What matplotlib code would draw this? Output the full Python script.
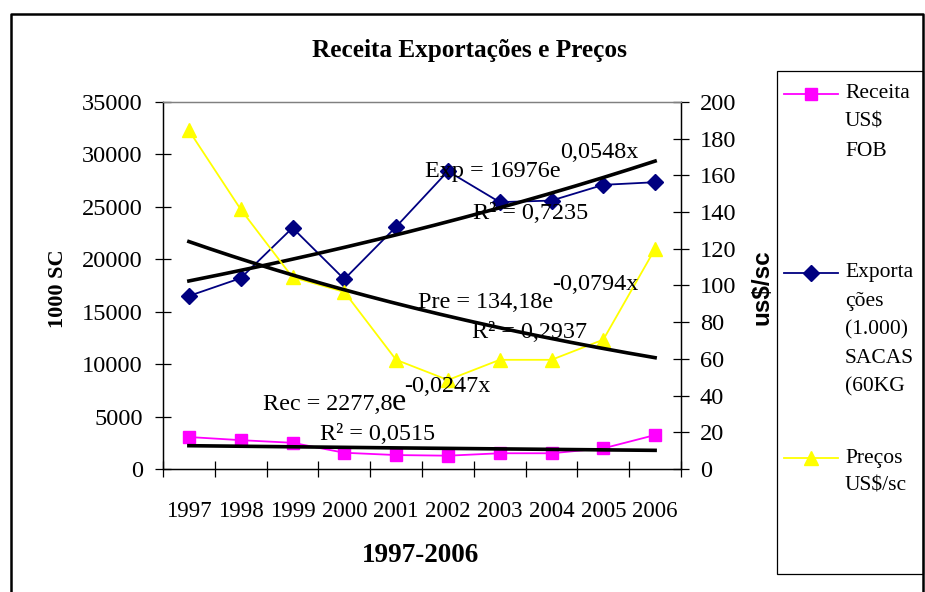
import numpy as np
import matplotlib
matplotlib.use("Agg")
import matplotlib.pyplot as plt
from matplotlib.lines import Line2D
from matplotlib.patches import Rectangle

# === Data ===
anos = ["1997", "1998", "1999", "2000", "2001", "2002", "2003", "2004", "2005", "2006"]
receita = [3050, 2750, 2500, 1550, 1330, 1270, 1500, 1500, 1970, 3240]          # US$ FOB (left axis)
exportacoes = [16500, 18200, 23000, 18100, 23100, 28400, 25450, 25600, 27100, 27350]  # 1000 sacas (left axis)
precos = [184.5, 141.5, 104.5, 96.5, 59.5, 48.5, 59.5, 59.5, 70.5, 120.0]      # US$/sc (right axis)

# exponential trend coefficients as printed on the chart (y = a * e^(b*x), x = 1..10)
trend_exp = [16976, 0.0548]
trend_pre = [134.18, -0.0794]
trend_rec = [2277.8, -0.0247]

SERIF = "Liberation Serif"
W, H = 925, 592


def fx(px):
    return px / W


def fy(py):
    return 1 - py / H


fig = plt.figure(figsize=(W / 100, H / 100), dpi=100)
fig.patch.set_facecolor("white")

ax = fig.add_axes([fx(163), fy(469), fx(681) - fx(163), fy(102) - fy(469)])
ax2 = ax.twinx()

x = np.arange(len(anos))
xs = np.linspace(1, len(anos), 200)

# series
ax.plot(x, receita, color="#FF00FF", lw=1.3, marker="s", ms=8, mec="#FF00FF", zorder=3)
ax.plot(x, exportacoes, color="#000080", lw=1.3, marker="D", ms=8.5, mec="#000080", zorder=3)
ax2.plot(x, precos, color="#FFFF00", lw=1.3, marker="^", ms=10, mec="#FFFF00", zorder=3)

# trend lines
ax.plot(xs - 1, trend_exp[0] * np.exp(trend_exp[1] * xs), color="black", lw=2.6, zorder=4)
ax.plot(xs - 1, trend_rec[0] * np.exp(trend_rec[1] * xs), color="black", lw=2.6, zorder=4)
ax2.plot(xs - 1, trend_pre[0] * np.exp(trend_pre[1] * xs), color="black", lw=2.6, zorder=4)

ax.set_xlim(-0.5, len(anos) - 0.5)
ax.set_ylim(0, 35000)
ax2.set_ylim(0, 200)
ax.set_yticks(np.arange(0, 35001, 5000))
ax2.set_yticks(np.arange(0, 201, 20))
ax.set_xticks(x, anos)
ax.set_xticks(np.arange(-0.5, len(anos), 1), minor=True)

for a in (ax, ax2):
    for s in a.spines.values():
        s.set_linewidth(0.9)
    a.spines["top"].set_color("#808080")
    a.tick_params(axis="y", direction="inout", length=11, width=0.9, labelsize=17.6)
    for lab in a.get_yticklabels():
        lab.set_fontname(SERIF)
ax.tick_params(axis="y", pad=9)
ax2.tick_params(axis="y", pad=8)
ax.tick_params(axis="x", which="major", length=0, labelsize=16.5, pad=23)
ax.tick_params(axis="x", which="minor", direction="inout", length=11, width=0.9)
for lab in ax.get_xticklabels():
    lab.set_fontname(SERIF)

# titles and axis labels
fig.text(fx(470), fy(51), "Receita Exportações e Preços", ha="center", va="center",
         fontsize=18.2, fontweight="bold", fontname=SERIF)
fig.text(fx(58), fy(289), "1000 SC", ha="center", va="center", rotation=90,
         fontsize=16, fontweight="bold", fontname=SERIF)
fig.text(fx(762), fy(287), "us$/sc", ha="center", va="center", rotation=90,
         fontsize=17.5, fontweight="bold", fontname="Liberation Sans")
fig.text(fx(421), fy(555), "1997-2006", ha="center", va="center",
         fontsize=19.5, fontweight="bold", fontname=SERIF)

# trend equations
eq = dict(ha="left", va="center", fontsize=17.4, fontname=SERIF, zorder=6)
fig.text(fx(425), fy(172), "Exp = 16976e", **eq)
fig.text(fx(560), fy(153), "0,0548x", **eq)
fig.text(fx(473), fy(213), "R² = 0,7235", **eq)
fig.text(fx(418), fy(302), "Pre = 134,18e", **eq)
fig.text(fx(552), fy(285), "-0,0794x", **eq)
fig.text(fx(472), fy(333), "R² = 0,2937", **eq)
fig.text(fx(404), fy(386), "-0,0247x", **eq)
fig.text(fx(263), fy(404), "Rec = 2277,8", **eq)
fig.text(fx(392), fy(402), "e", ha="left", va="center", fontsize=23, fontname=SERIF)
fig.text(fx(320), fy(435), "R² = 0,0515", **eq)

# outer chart frame (bottom edge falls outside the picture)
fig.add_artist(Line2D([fx(11), fx(11), fx(923), fx(923)], [fy(600), fy(14), fy(14), fy(600)],
                      color="black", lw=1.8, transform=fig.transFigure))

# legend box, drawn by hand so the handle sits on the first text line
fig.add_artist(Rectangle((fx(777), fy(574)), fx(923) - fx(777), fy(71) - fy(574),
                         fill=False, ec="black", lw=0.9, transform=fig.transFigure))
leg_items = [
    ("#FF00FF", "s", 8, ["Receita", "US$", "FOB"], 94),
    ("#000080", "D", 8.5, ["Exporta", "ções", "(1.000)", "SACAS", "(60KG"], 273),
    ("#FFFF00", "^", 10, ["Preços", "US$/sc"], 458),
]
for color, mk, ms, lines, ytop in leg_items:
    fig.add_artist(Line2D([fx(784), fx(838)], [fy(ytop), fy(ytop)], color=color, lw=1.3,
                          transform=fig.transFigure))
    fig.add_artist(Line2D([fx(811)], [fy(ytop)], color=color, marker=mk, ms=ms, mec=color,
                          transform=fig.transFigure))
    for i, t in enumerate(lines):
        fig.text(fx(845), fy(ytop + i * 28.5), t, ha="left", va="center",
                 fontsize=15.5, fontname=SERIF)

fig.savefig("out.png", dpi=100, facecolor="white")
